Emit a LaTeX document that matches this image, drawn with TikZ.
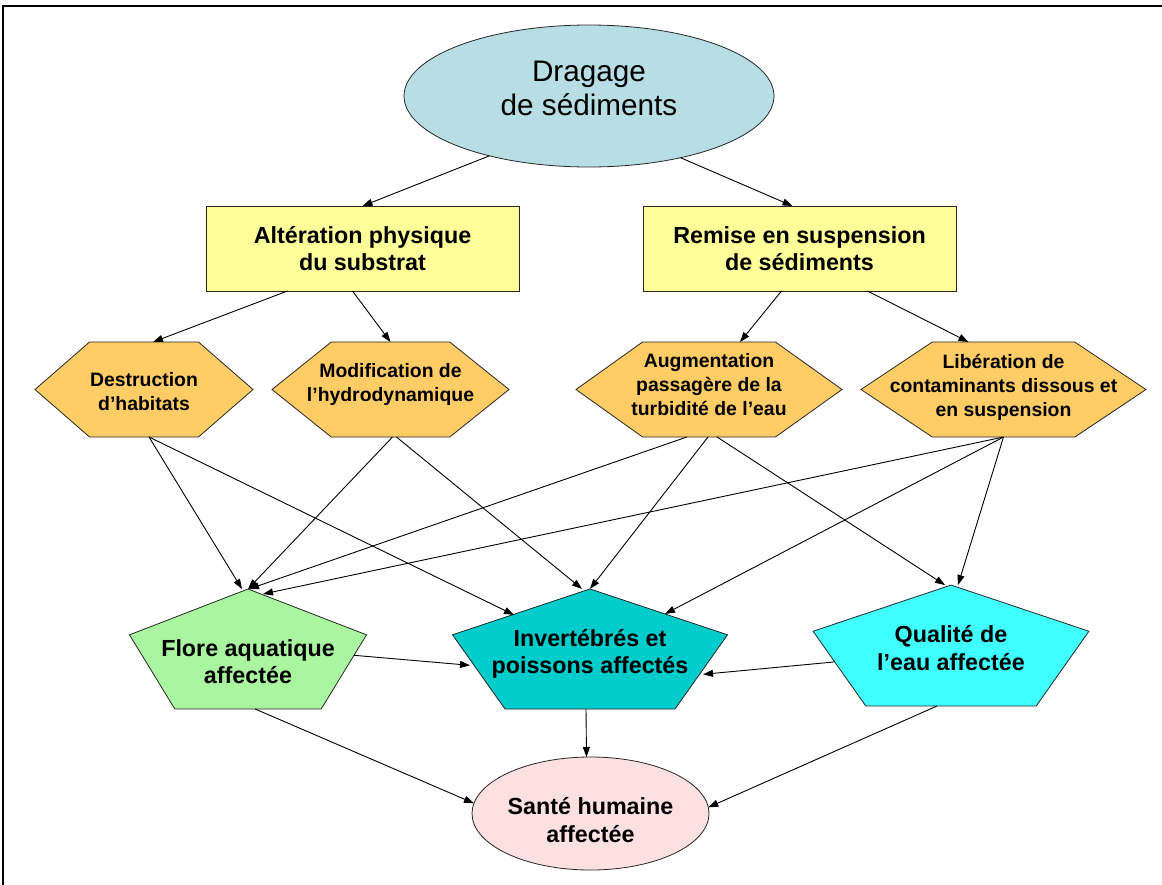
\documentclass[tikz,border=0pt]{standalone}
\usepackage{fontspec}
\setmainfont{Liberation Sans}
\usetikzlibrary{shapes.geometric,arrows.meta}
\definecolor{dragbleu}{RGB}{183,222,228}
\definecolor{jaune}{RGB}{255,255,153}
\definecolor{hexorange}{RGB}{255,204,102}
\definecolor{floreverte}{RGB}{170,245,160}
\definecolor{invturq}{RGB}{0,204,204}
\definecolor{qualcyan}{RGB}{64,255,255}
\definecolor{santerose}{RGB}{253,225,225}
\newcommand\grandtxt{\fontsize{23.3}{27.5}\selectfont\bfseries}
\newcommand\petittxt{\fontsize{19.4}{24}\selectfont\bfseries}
\newcommand\dragtxt{\fontsize{29.7}{34}\selectfont}
\begin{document}
\begin{tikzpicture}[x=1pt,y=-1pt,
  contour/.style={draw=black!85,line width=.8pt,inner sep=0pt,outer sep=0pt},
  ovale/.style={contour,ellipse},
  cadre/.style={contour,rectangle,minimum width=313pt,minimum height=85pt,fill=jaune,align=center,font=\grandtxt},
  hexa/.style={contour,regular polygon,regular polygon sides=6,transform shape,fill=hexorange},
  penta/.style={contour,regular polygon,regular polygon sides=5,transform shape},
  petitlbl/.style={align=center,font=\petittxt},
  grandlbl/.style={align=center,font=\grandtxt},
  fleche/.style={-{Triangle[length=10pt,width=7pt]},line width=.9pt}]
	\useasboundingbox (0,0) rectangle (1162,884);
	\draw[line width=2pt] (3,900) |- (1180,6);

	\node[ovale,fill=dragbleu,minimum width=370pt,minimum height=142pt] (drag) at (589,96) {};
	\node[align=center,font=\dragtxt] (drag-lbl) at (589,88.3) {Dragage\\de sédiments};

	\node[cadre] (alt) at (362.5,248.5) {Altération physique\\du substrat};
	\node[cadre] (rem) at (799.5,248.5) {Remise en suspension\\de sédiments};

	\node[hexa,minimum size=218pt,yscale=.503] (dest) at (144,389.5) {};
	\node[petitlbl] (dest-lbl) at (144,392) {Destruction\\d’habitats};
	\node[hexa,minimum size=237pt,yscale=.463] (modif) at (390.5,389.5) {};
	\node[petitlbl] (modif-lbl) at (390.5,384.5) {Modification de\\l’hydrodynamique};
	\node[hexa,minimum size=266pt,yscale=.412] (augm) at (709,389.5) {};
	\node[petitlbl] (augm-lbl) at (709,385) {Augmentation\\passagère de la\\turbidité de l’eau};
	\node[hexa,minimum size=285pt,yscale=.385] (liber) at (1003.5,389.5) {};
	\node[petitlbl] (liber-lbl) at (1003.5,387) {Libération de\\contaminants dissous et\\en suspension};

	\node[penta,fill=floreverte,minimum size=249.2pt,yscale=.532] (flore) at (248,655.3) {};
	\node[grandlbl] (flore-lbl) at (248,661.5) {Flore aquatique\\affectée};
	\node[penta,fill=invturq,minimum size=289.2pt,yscale=.459] (inv) at (590,655.3) {};
	\node[grandlbl] (inv-lbl) at (590,654) {Invertébrés et\\poissons affectés};
	\node[penta,fill=qualcyan,minimum size=290pt,yscale=.461] (qual) at (951,651.9) {};
	\node[grandlbl] (qual-lbl) at (951,648) {Qualité de\\l’eau affectée};

	\node[ovale,fill=santerose,minimum width=237pt,minimum height=113pt] (sante) at (590.5,813.5) {};
	\node[grandlbl] (sante-lbl) at (590.5,820) {Santé humaine\\affectée};

	\draw[fleche] (drag.211) -- (alt.north);
	\draw[fleche] (drag.326) -- ([xshift=-7pt]rem.north);
	\draw[fleche] ([xshift=-75pt]alt.south) -- ([xshift=9pt]dest.90);
	\draw[fleche] ([xshift=-10pt]alt.south) -- (modif.90);
	\draw[fleche] ([xshift=-18pt]rem.south) -- ([xshift=31pt]augm.90);
	\draw[fleche] ([xshift=68pt]rem.south) -- ([xshift=-35pt]liber.90);
	\draw[fleche] ([xshift=5pt]dest.270) -- ([xshift=-6pt]flore.90);
	\draw[fleche] ([xshift=5pt]dest.270) -- ([xshift=-76pt,yshift=-26pt]inv.90);
	\draw[fleche] ([xshift=2pt]modif.270) -- (flore.90);
	\draw[fleche] ([xshift=6pt]modif.270) -- ([xshift=-8pt]inv.90);
	\draw[fleche] ([xshift=-22pt]augm.270) -- ([xshift=1pt]flore.90);
	\draw[fleche] ([xshift=-1pt]augm.270) -- (inv.90);
	\draw[fleche] ([xshift=8pt]augm.270) -- ([xshift=-6pt]qual.90);
	\draw[fleche] (liber.270) -- ([xshift=15pt,yshift=-5pt]flore.90);
	\draw[fleche] (liber.270) -- ([xshift=75pt,yshift=-25pt]inv.90);
	\draw[fleche] (liber.270) -- ([xshift=7pt]qual.90);
	\draw[fleche] (flore.0) -- ([xshift=3pt,yshift=-10pt]inv.180);
	\draw[fleche] ([xshift=7pt,yshift=-10pt]qual.180) -- ([xshift=-10pt,yshift=-19pt]inv.0);
	\draw[fleche] ([xshift=-4pt]inv.270) -- ([xshift=-4pt]sante.north);
	\draw[fleche] ([xshift=7pt]flore.270) -- (sante.175);
	\draw[fleche] ([xshift=-14pt]qual.270) -- (sante.3);
\end{tikzpicture}
\end{document}
